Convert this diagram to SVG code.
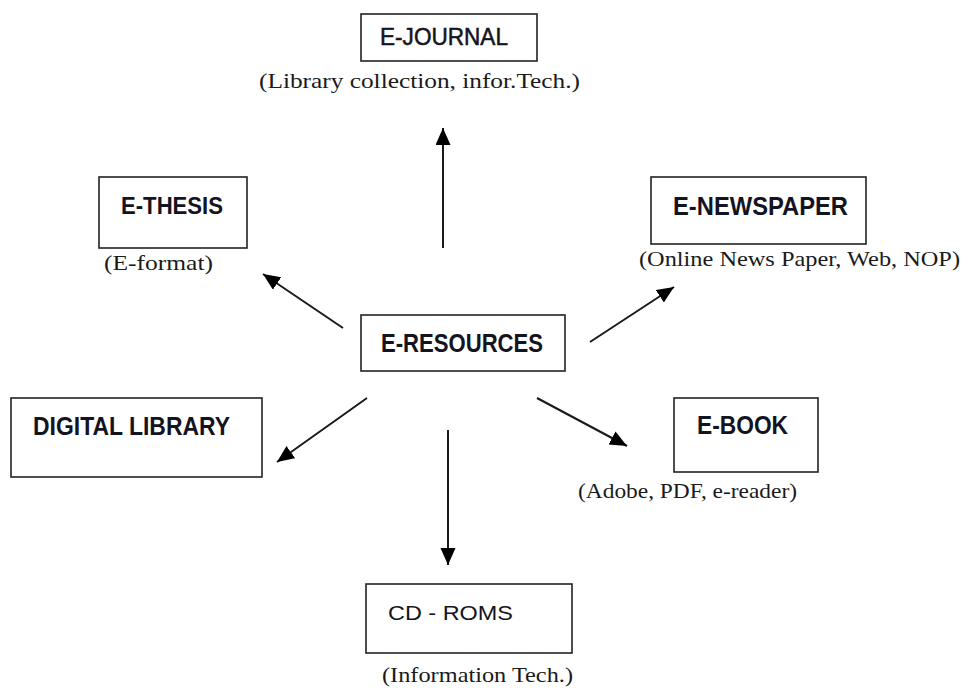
<svg xmlns="http://www.w3.org/2000/svg" width="974" height="688" viewBox="0 0 974 688">
  <defs>
    <style>
      .box { fill: #fff; stroke: #222; stroke-width: 1.6; }
      .bold { font-family: "Liberation Sans", Arial, sans-serif; font-weight: bold; fill: #141420; }
      .reg { font-family: "Liberation Sans", Arial, sans-serif; fill: #141420; }
      .sub { font-family: "Liberation Serif", "Times New Roman", serif; font-size: 21px; fill: #1a1a1a; }
      .conn { stroke: #1a1a1a; stroke-width: 2; fill: none; marker-end: url(#arrow); }
    </style>
    <marker id="arrow" markerUnits="userSpaceOnUse" markerWidth="20" markerHeight="16" refX="17" refY="7.5" orient="auto">
      <path d="M0,0 L17,7.5 L0,15 Z" fill="#000"/>
    </marker>
  </defs>
  <rect width="974" height="688" fill="#fff"/>

  <g id="connectors">
    <line class="conn" x1="443" y1="248" x2="443" y2="128"/>
    <line class="conn" x1="343" y1="328" x2="263" y2="274"/>
    <line class="conn" x1="590" y1="342" x2="674" y2="287"/>
    <line class="conn" x1="367" y1="398" x2="277" y2="462"/>
    <line class="conn" x1="448" y1="430" x2="448" y2="565"/>
    <line class="conn" x1="537" y1="398" x2="627" y2="446"/>
  </g>

  <g id="e-journal">
    <rect class="box" x="361" y="14" width="176" height="47"/>
    <text class="reg" x="380" y="45" font-size="23" textLength="128" lengthAdjust="spacingAndGlyphs" stroke="#141420" stroke-width="0.5">E-JOURNAL</text>
    <text class="sub" x="259" y="88" textLength="321" lengthAdjust="spacingAndGlyphs">(Library collection, infor.Tech.)</text>
  </g>

  <g id="e-thesis">
    <rect class="box" x="99" y="177" width="148" height="71"/>
    <text class="bold" x="121" y="214" font-size="24" textLength="102" lengthAdjust="spacingAndGlyphs">E-THESIS</text>
    <text class="sub" x="104" y="270" textLength="109" lengthAdjust="spacingAndGlyphs">(E-format)</text>
  </g>

  <g id="e-newspaper">
    <rect class="box" x="651" y="177" width="215" height="67"/>
    <text class="bold" x="673" y="215" font-size="25" textLength="175" lengthAdjust="spacingAndGlyphs">E-NEWSPAPER</text>
    <text class="sub" x="639" y="266" textLength="321" lengthAdjust="spacingAndGlyphs">(Online News Paper, Web, NOP)</text>
  </g>

  <g id="e-resources">
    <rect class="box" x="361" y="315" width="204" height="56"/>
    <text class="bold" x="381" y="352" font-size="26" textLength="162" lengthAdjust="spacingAndGlyphs">E-RESOURCES</text>
  </g>

  <g id="digital-library">
    <rect class="box" x="11" y="398" width="251" height="79"/>
    <text class="bold" x="33" y="435" font-size="25" textLength="197" lengthAdjust="spacingAndGlyphs">DIGITAL LIBRARY</text>
  </g>

  <g id="e-book">
    <rect class="box" x="674" y="398" width="144" height="74"/>
    <text class="bold" x="697" y="434" font-size="25" textLength="91" lengthAdjust="spacingAndGlyphs">E-BOOK</text>
    <text class="sub" x="578" y="498" textLength="219" lengthAdjust="spacingAndGlyphs">(Adobe, PDF, e-reader)</text>
  </g>

  <g id="cd-roms">
    <rect class="box" x="366" y="584" width="206" height="69"/>
    <text class="reg" x="388" y="620" font-size="21" textLength="125" lengthAdjust="spacingAndGlyphs">CD - ROMS</text>
    <text class="sub" x="382" y="682" textLength="191" lengthAdjust="spacingAndGlyphs">(Information Tech.)</text>
  </g>
</svg>
